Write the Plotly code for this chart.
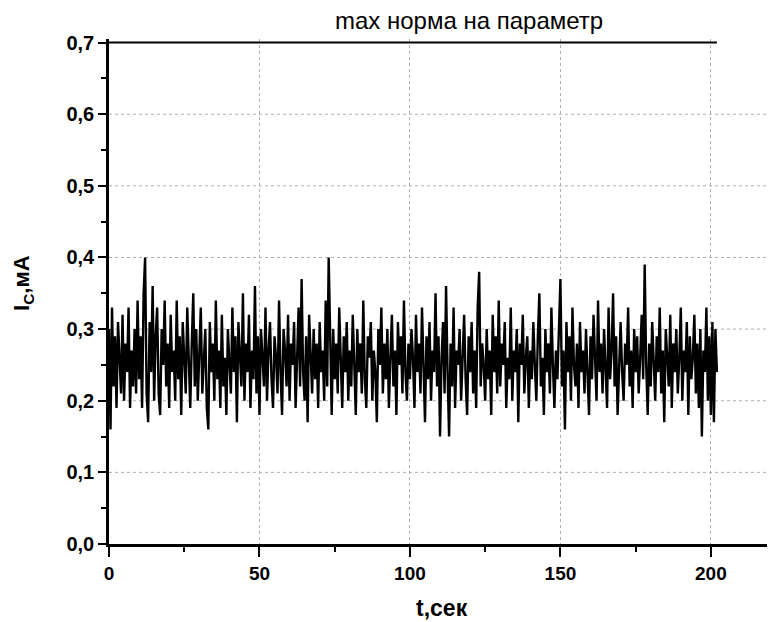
import plotly.graph_objects as go

dt = 0.5
current = [
    0.30,0.16,0.33,0.22,0.29,0.19,0.31,0.25,0.21,0.32,0.20,0.28,0.24,0.33,0.19,0.27,0.22,0.30,0.21,0.34,
    0.23,0.29,0.19,0.35,0.40,0.21,0.17,0.31,0.24,0.36,0.20,0.29,0.33,0.21,0.18,0.30,0.25,0.34,0.22,0.28,
    0.19,0.32,0.24,0.27,0.20,0.34,0.23,0.29,0.18,0.31,0.26,0.21,0.33,0.24,0.19,0.28,0.35,0.22,0.30,0.20,
    0.27,0.33,0.21,0.25,0.30,0.19,0.16,0.31,0.24,0.28,0.20,0.34,0.23,0.27,0.19,0.32,0.22,0.26,0.18,0.30,
    0.25,0.21,0.33,0.24,0.29,0.17,0.31,0.26,0.22,0.35,0.20,0.28,0.24,0.32,0.19,0.27,0.23,0.36,0.21,0.29,
    0.18,0.30,0.25,0.22,0.33,0.20,0.27,0.31,0.23,0.19,0.29,0.26,0.21,0.34,0.24,0.18,0.30,0.27,0.22,0.32,
    0.20,0.28,0.25,0.31,0.19,0.26,0.33,0.22,0.37,0.24,0.20,0.29,0.17,0.32,0.25,0.21,0.30,0.23,0.28,0.19,
    0.31,0.24,0.27,0.20,0.34,0.22,0.40,0.26,0.18,0.30,0.23,0.28,0.21,0.33,0.25,0.19,0.29,0.24,0.31,0.20,
    0.27,0.22,0.32,0.25,0.18,0.30,0.24,0.28,0.21,0.34,0.23,0.19,0.29,0.26,0.31,0.20,0.27,0.24,0.17,0.30,
    0.25,0.33,0.21,0.28,0.23,0.30,0.19,0.26,0.32,0.22,0.27,0.18,0.31,0.25,0.29,0.21,0.34,0.24,0.20,0.28,
    0.23,0.30,0.26,0.19,0.32,0.24,0.28,0.21,0.33,0.25,0.17,0.29,0.23,0.31,0.20,0.27,0.24,0.35,0.22,0.29,
    0.15,0.26,0.31,0.21,0.36,0.24,0.15,0.28,0.22,0.33,0.19,0.27,0.25,0.30,0.20,0.26,0.32,0.23,0.18,0.29,
    0.24,0.31,0.21,0.27,0.19,0.33,0.38,0.22,0.28,0.25,0.20,0.30,0.23,0.27,0.18,0.32,0.24,0.29,0.21,0.34,
    0.22,0.28,0.25,0.31,0.19,0.26,0.23,0.33,0.20,0.27,0.24,0.30,0.17,0.28,0.25,0.32,0.21,0.26,0.29,0.19,
    0.27,0.23,0.31,0.25,0.20,0.29,0.35,0.22,0.26,0.18,0.30,0.24,0.28,0.21,0.33,0.25,0.19,0.27,0.23,0.30,
    0.37,0.22,0.27,0.16,0.31,0.24,0.29,0.20,0.33,0.25,0.22,0.28,0.19,0.31,0.24,0.27,0.21,0.30,0.25,0.18,
    0.29,0.23,0.32,0.26,0.20,0.34,0.24,0.28,0.21,0.30,0.25,0.19,0.33,0.23,0.27,0.35,0.22,0.29,0.18,0.26,
    0.31,0.24,0.20,0.28,0.25,0.33,0.22,0.27,0.19,0.30,0.24,0.29,0.21,0.26,0.32,0.23,0.39,0.25,0.18,0.28,
    0.22,0.31,0.26,0.20,0.29,0.24,0.33,0.21,0.27,0.17,0.30,0.25,0.22,0.32,0.19,0.28,0.24,0.30,0.21,0.26,
    0.33,0.20,0.27,0.24,0.31,0.18,0.29,0.23,0.26,0.32,0.21,0.28,0.19,0.30,0.15,0.27,0.24,0.33,0.20,0.29,
    0.18,0.31,0.17,0.30,0.24,
]
time = [i * dt for i in range(len(current))]

x_ticks = [0, 50, 100, 150, 200]
y_ticks = [0.0, 0.1, 0.2, 0.3, 0.4, 0.5, 0.6, 0.7]
y_labels = ["0,0", "0,1", "0,2", "0,3", "0,4", "0,5", "0,6", "0,7"]
grid_y = [0.1, 0.2, 0.3, 0.4, 0.5, 0.6]

title_text = "max норма на параметр"
x_title = "t,сек"
y_title = "I<sub>C</sub>,мА"

font = "Liberation Sans"

fig = go.Figure()
fig.add_trace(go.Scatter(x=time, y=current, mode="lines",
                         line=dict(color="black", width=2.4), showlegend=False))

fig.add_shape(type="line", xref="x", yref="y", x0=0, x1=time[-1], y0=0.7, y1=0.7,
              line=dict(color="black", width=2))

fig.update_layout(
    width=775, height=622,
    margin=dict(l=101, r=8, t=31, b=86, autoexpand=False),
    paper_bgcolor="white", plot_bgcolor="white",
    font=dict(family=font, color="black"),
    annotations=[
        dict(text=title_text, xref="paper", yref="paper", x=0.54, y=1.0, yshift=19,
             yanchor="middle", showarrow=False,
             font=dict(family=font, size=24, color="black")),
        dict(text=x_title, xref="paper", yref="paper", x=0.5, y=0.0, yshift=-64,
             yanchor="middle", showarrow=False,
             font=dict(family=font, size=23, color="black", weight="bold")),
        dict(text=y_title, xref="paper", yref="paper", x=0.0, y=0.517, xshift=-86,
             xanchor="center", yanchor="middle", textangle=-90, showarrow=False,
             font=dict(family=font, size=22, color="black", weight="bold")),
    ],
)
fig.update_xaxes(
    range=[0, 221.3], tickmode="array", tickvals=x_ticks,
    ticktext=[str(v) for v in x_ticks],
    ticks="outside", ticklen=10, tickwidth=2, tickcolor="black",
    minor=dict(dtick=25, tick0=0, ticks="outside", ticklen=5, tickwidth=2, tickcolor="black",
               showgrid=False),
    showline=True, linecolor="black", linewidth=2.5,
    showgrid=True, gridcolor="#b0b0b0", griddash="dot", gridwidth=1,
    zeroline=False, automargin=False,
    tickfont=dict(family=font, size=19, color="black", weight="bold"),
)
fig.update_yaxes(
    range=[0, 0.705], tickmode="array", tickvals=y_ticks, ticktext=y_labels,
    ticks="outside", ticklen=8, tickwidth=2, tickcolor="black",
    minor=dict(dtick=0.05, tick0=0, ticks="outside", ticklen=5, tickwidth=2, tickcolor="black",
               showgrid=False),
    showline=True, linecolor="black", linewidth=2.5,
    showgrid=False,
    zeroline=False, automargin=False,
    tickfont=dict(family=font, size=20, color="black", weight="bold"),
)
for gy in grid_y:
    fig.add_hline(y=gy, line=dict(color="#b0b0b0", width=1, dash="dot"), layer="below")

fig.write_html("out.html")
